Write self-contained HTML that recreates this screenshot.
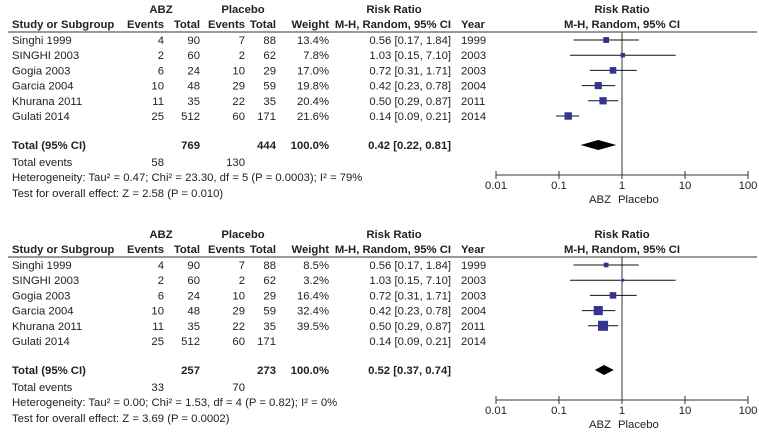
<!DOCTYPE html>
<html><head><meta charset="utf-8"><style>
body{margin:0;background:#fff;width:759px;height:431px;overflow:hidden}
svg{font-family:"Liberation Sans",Arial,sans-serif;font-size:11.3px;fill:#222}
.b{font-weight:bold}
</style></head><body>
<svg id="c" width="759" height="431"></svg>
<script>
const studies=["Singhi 1999","SINGHI 2003","Gogia 2003","Garcia 2004","Khurana 2011","Gulati 2014"];
const years=["1999","2003","2003","2004","2011","2014"];
const abzEvents=[4,2,6,10,11,25];
const abzTotal=[90,60,24,48,35,512];
const plaEvents=[7,2,10,29,22,60];
const plaTotal=[88,62,29,59,35,171];
const rr=[0.56,1.03,0.72,0.42,0.50,0.14];
const lo=[0.17,0.15,0.31,0.23,0.29,0.09];
const hi=[1.84,7.10,1.71,0.78,0.87,0.21];
const weightsA=[13.4,7.8,17.0,19.8,20.4,21.6];
const weightsB=[8.5,3.2,16.4,32.4,39.5,null];
const totalsA=[769,444,58,130,0.42,0.22,0.81];
const totalsB=[257,273,33,70,0.52,0.37,0.74];
const hetA="Heterogeneity: Tau² = 0.47; Chi² = 23.30, df = 5 (P = 0.0003); I² = 79%";
const hetB="Heterogeneity: Tau² = 0.00; Chi² = 1.53, df = 4 (P = 0.82); I² = 0%";
const testA="Test for overall effect: Z = 2.58 (P = 0.010)";
const testB="Test for overall effect: Z = 3.69 (P = 0.0002)";
const ticks=[0.01,0.1,1,10,100];
const tickLabels=["0.01","0.1","1","10","100"];

const NS="http://www.w3.org/2000/svg";
const svg=document.getElementById('c');
function el(tag,attrs,parent){const e=document.createElementNS(NS,tag);for(const k in attrs)e.setAttribute(k,attrs[k]);(parent||svg).appendChild(e);return e;}
function txt(x,y,s,anchor,cls,parent,name){const t=el('text',{x:x,y:y,'text-anchor':anchor||'start'},parent);if(cls)t.setAttribute('class',cls);t.textContent=s;


return t;}
const xScale=v=>622+63*Math.log10(v);
const f2=v=>v.toFixed(2);

function panel(oy,weights,totals,het,test,pid){
  const g=el('g',{});
  
  
  txt(161,oy+13,"ABZ","middle","b",g,'abz-header');
  txt(243,oy+13,"Placebo","middle","b",g,'placebo-header');
  txt(394,oy+13,"Risk Ratio","middle","b",g,'risk-ratio-header');
  txt(622,oy+13,"Risk Ratio","middle","b",g,'plot-header');
  txt(12,oy+28,"Study or Subgroup","start","b",g,'study-header');
  txt(164,oy+28,"Events","end","b",g,'abz-events-header');
  txt(200,oy+28,"Total","end","b",g,'abz-total-header');
  txt(245,oy+28,"Events","end","b",g,'placebo-events-header');
  txt(276,oy+28,"Total","end","b",g,'placebo-total-header');
  txt(329,oy+28,"Weight","end","b",g,'weight-header');
  txt(451,oy+28,"M-H, Random, 95% CI","end","b",g,'ci-header');
  txt(461,oy+28,"Year","start","b",g,'year-header');
  txt(622,oy+28,"M-H, Random, 95% CI","middle","b",g,'plot-subheader');
  const ln=el('line',{x1:8,x2:757,y1:oy+32,y2:oy+32,stroke:'#333','stroke-width':1},g);
  
  const vl=el('line',{x1:xScale(1),x2:xScale(1),y1:oy+32,y2:oy+175,stroke:'#333','stroke-width':1},g);
  
  studies.forEach((s,i)=>{
    const y=oy+44+15.2*i;
    txt(12,y,s,'start',null,g,'study-name');
    txt(164,y,abzEvents[i],'end',null,g,'abz-events');
    txt(200,y,abzTotal[i],'end',null,g,'abz-total');
    txt(245,y,plaEvents[i],'end',null,g,'placebo-events');
    txt(276,y,plaTotal[i],'end',null,g,'placebo-total');
    if(weights[i]!=null){
      txt(329,y,weights[i].toFixed(1)+"%",'end',null,g,'weight');
      txt(451,y,f2(rr[i])+" ["+f2(lo[i])+", "+f2(hi[i])+"]",'end',null,g,'risk-ratio-ci');
      const cy=y-4;
      const l=el('line',{x1:xScale(lo[i]),x2:xScale(hi[i]),y1:cy,y2:cy,stroke:'#111','stroke-width':1},g);
      
      const sz=1.6*Math.sqrt(weights[i]);
      const r=el('rect',{x:xScale(rr[i])-sz/2,y:cy-sz/2,width:sz,height:sz,fill:'#33348e'},g);
      
    } else {
      txt(451,y,f2(rr[i])+" ["+f2(lo[i])+", "+f2(hi[i])+"]",'end',null,g,'risk-ratio-ci');
    }
    txt(461,y,years[i],'start',null,g,'year');
  });
  const ty=oy+149;
  txt(12,ty,"Total (95% CI)",'start','b',g,'total-label');
  txt(200,ty,totals[0],'end','b',g,'abz-total-sum');
  txt(276,ty,totals[1],'end','b',g,'placebo-total-sum');
  txt(329,ty,"100.0%",'end','b',g,'total-weight');
  txt(451,ty,f2(totals[4])+" ["+f2(totals[5])+", "+f2(totals[6])+"]",'end','b',g,'pooled-ci');
  const dy=ty-4;
  const d=el('polygon',{points:`${xScale(totals[5])},${dy} ${xScale(totals[4])},${dy-5} ${xScale(totals[6])},${dy} ${xScale(totals[4])},${dy+5}`,fill:'#000'},g);
  
  txt(12,oy+166,"Total events",'start',null,g,'total-events-label');
  txt(164,oy+166,totals[2],'end',null,g,'abz-total-events');
  txt(245,oy+166,totals[3],'end',null,g,'placebo-total-events');
  txt(12,oy+181,het,'start',null,g,'heterogeneity');
  txt(12,oy+197,test,'start',null,g,'overall-effect');
  const ay=oy+175;
  const ax=el('line',{x1:xScale(0.01),x2:xScale(100),y1:ay,y2:ay,stroke:'#333','stroke-width':1},g);
  
  ticks.forEach((t,i)=>{
    const tk=el('line',{x1:xScale(t),x2:xScale(t),y1:ay-4,y2:ay+4,stroke:'#333','stroke-width':1},g);
    
    txt(xScale(t),ay+14,tickLabels[i],'middle',null,g,'x-tick-label');
  });
  txt(611,ay+28,"ABZ",'end',null,g,'favours-abz');
  txt(618,ay+28,"Placebo",'start',null,g,'favours-placebo');
}
panel(0,weightsA,totalsA,hetA,testA,'forest-panel-all');
panel(225,weightsB,totalsB,hetB,testB,'forest-panel-sensitivity');
</script>
</body></html>
